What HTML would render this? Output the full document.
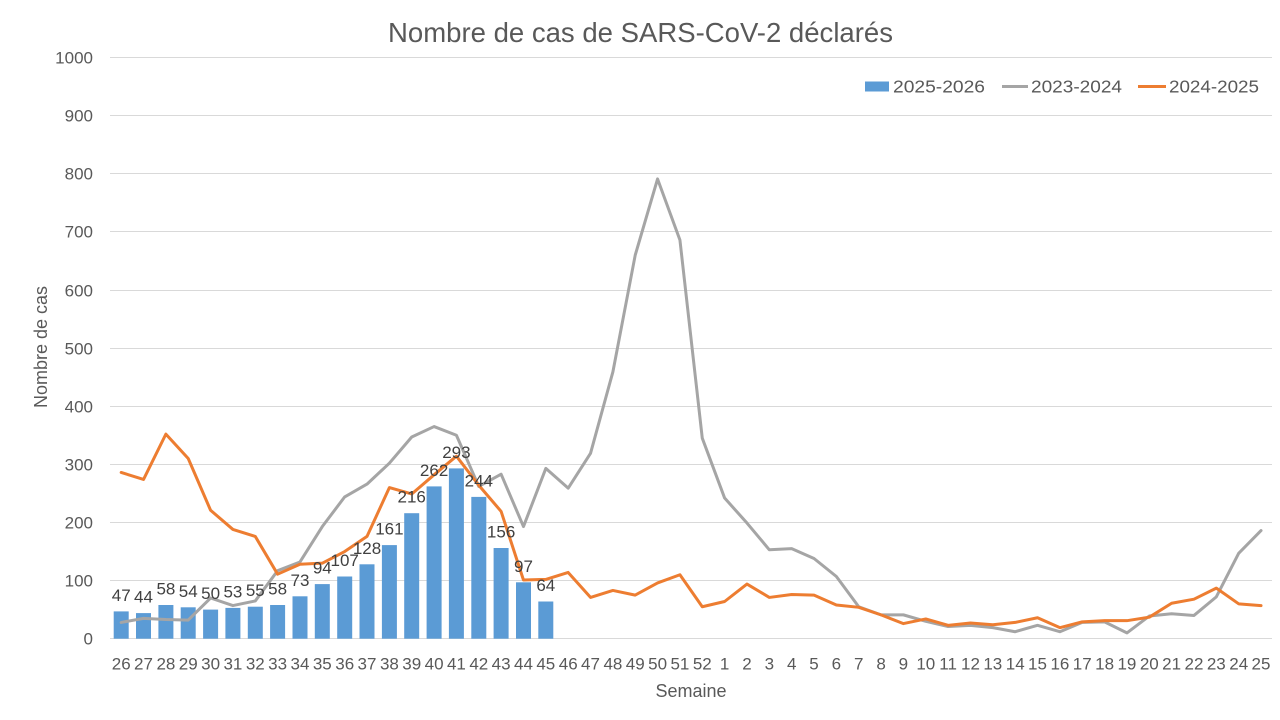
<!DOCTYPE html>
<html>
<head>
<meta charset="utf-8">
<style>
html,body{margin:0;padding:0;background:#fff;}
svg{display:block;}
text{font-family:"Liberation Sans",Arial,sans-serif;}
</style>
</head>
<body>
<svg width="1280" height="720" viewBox="0 0 1280 720" xmlns="http://www.w3.org/2000/svg">
<rect x="0" y="0" width="1280" height="720" fill="#fff"/>
<!-- title -->
<text x="388" y="42" font-size="27.5" fill="#595959" textLength="505" lengthAdjust="spacingAndGlyphs">Nombre de cas de SARS-CoV-2 déclarés</text>

<!-- gridlines -->
<g stroke="#D9D9D9" stroke-width="1">
<line x1="110" x2="1272" y1="57.5" y2="57.5"/>
<line x1="110" x2="1272" y1="115.5" y2="115.5"/>
<line x1="110" x2="1272" y1="173.5" y2="173.5"/>
<line x1="110" x2="1272" y1="231.5" y2="231.5"/>
<line x1="110" x2="1272" y1="290.5" y2="290.5"/>
<line x1="110" x2="1272" y1="348.5" y2="348.5"/>
<line x1="110" x2="1272" y1="406.5" y2="406.5"/>
<line x1="110" x2="1272" y1="464.5" y2="464.5"/>
<line x1="110" x2="1272" y1="522.5" y2="522.5"/>
<line x1="110" x2="1272" y1="580.5" y2="580.5"/>
<line x1="110" x2="1272" y1="638.5" y2="638.5"/>
</g>

<!-- y tick labels -->
<g font-size="17" fill="#595959" text-anchor="end">
<text x="93" y="63.5">1000</text>
<text x="93" y="121.5">900</text>
<text x="93" y="179.5">800</text>
<text x="93" y="237.5">700</text>
<text x="93" y="296.5">600</text>
<text x="93" y="354.5">500</text>
<text x="93" y="412.5">400</text>
<text x="93" y="470.5">300</text>
<text x="93" y="528.5">200</text>
<text x="93" y="586.5">100</text>
<text x="93" y="644.5">0</text>
</g>

<!-- y axis title -->
<text transform="translate(47,347) rotate(-90)" font-size="18" fill="#595959" text-anchor="middle">Nombre de cas</text>

<!-- bars -->
<g fill="#5B9BD5">
<rect x="113.7" y="611.4" width="15" height="27.3"/>
<rect x="136.0" y="613.1" width="15" height="25.6"/>
<rect x="158.4" y="605.0" width="15" height="33.7"/>
<rect x="180.7" y="607.3" width="15" height="31.4"/>
<rect x="203.1" y="609.6" width="15" height="29.1"/>
<rect x="225.4" y="607.9" width="15" height="30.8"/>
<rect x="247.8" y="606.7" width="15" height="32.0"/>
<rect x="270.1" y="605.0" width="15" height="33.7"/>
<rect x="292.5" y="596.3" width="15" height="42.4"/>
<rect x="314.8" y="584.1" width="15" height="54.6"/>
<rect x="337.2" y="576.5" width="15" height="62.2"/>
<rect x="359.5" y="564.3" width="15" height="74.4"/>
<rect x="381.9" y="545.1" width="15" height="93.6"/>
<rect x="404.2" y="513.2" width="15" height="125.5"/>
<rect x="426.6" y="486.4" width="15" height="152.3"/>
<rect x="448.9" y="468.4" width="15" height="170.3"/>
<rect x="471.3" y="496.9" width="15" height="141.8"/>
<rect x="493.6" y="548.0" width="15" height="90.7"/>
<rect x="516.0" y="582.3" width="15" height="56.4"/>
<rect x="538.3" y="601.5" width="15" height="37.2"/>
</g>

<!-- lines in data coords -->
<g transform="translate(121.175,638.7) scale(22.35,-0.5812)" fill="none" stroke-width="3" stroke-linejoin="round" stroke-linecap="round">
<polyline vector-effect="non-scaling-stroke" stroke="#A5A5A5" points="0,28 1,35 2,33 3,32 4,70 5,57 6,65 7,117 8,132 9,193 10,244 11,266 12,302 13,347 14,365 15,350 16,262 17,283 18,193 19,293 20,259 21,319 22,459 23,660 24,791 25,686 26,345 27,242 28,199 29,153 30,155 31,138 32,107 33,55 34,41 35,41 36,30 37,21 38,23 39,19 40,12 41,23 42,12 43,28 44,29 45,10 46,39 47,43 48,40 49,72 50,147 51,186"/>
<polyline vector-effect="non-scaling-stroke" stroke="#ED7D31" points="0,286 1,274 2,352 3,310 4,221 5,188 6,176 7,111 8,128 9,130 10,150 11,176 12,260 13,249 14,282 15,314 16,264 17,219 18,101 19,102 20,114 21,71 22,83 23,75 24,96 25,110 26,55 27,64 28,94 29,71 30,76 31,75 32,58 33,54 34,41 35,26 36,34 37,23 38,27 39,24 40,28 41,36 42,19 43,29 44,31 45,31 46,37 47,61 48,68 49,87 50,60 51,57"/>
</g>

<!-- data labels -->
<g font-size="17" fill="#404040" text-anchor="middle">
<text x="121.2" y="600.9">47</text>
<text x="143.5" y="602.6">44</text>
<text x="165.9" y="594.5">58</text>
<text x="188.2" y="596.8">54</text>
<text x="210.6" y="599.1">50</text>
<text x="232.9" y="597.4">53</text>
<text x="255.3" y="596.2">55</text>
<text x="277.6" y="594.5">58</text>
<text x="300.0" y="585.8">73</text>
<text x="322.3" y="573.6">94</text>
<text x="344.7" y="566.0">107</text>
<text x="367.0" y="553.8">128</text>
<text x="389.4" y="534.6">161</text>
<text x="411.7" y="502.7">216</text>
<text x="434.1" y="475.9">262</text>
<text x="456.4" y="457.9">293</text>
<text x="478.8" y="486.4">244</text>
<text x="501.1" y="537.5">156</text>
<text x="523.5" y="571.8">97</text>
<text x="545.8" y="591.0">64</text>
</g>

<!-- x tick labels -->
<g font-size="17" fill="#595959" text-anchor="middle">
<text x="121.2" y="669.5">26</text>
<text x="143.5" y="669.5">27</text>
<text x="165.9" y="669.5">28</text>
<text x="188.2" y="669.5">29</text>
<text x="210.6" y="669.5">30</text>
<text x="232.9" y="669.5">31</text>
<text x="255.3" y="669.5">32</text>
<text x="277.6" y="669.5">33</text>
<text x="300.0" y="669.5">34</text>
<text x="322.3" y="669.5">35</text>
<text x="344.7" y="669.5">36</text>
<text x="367.0" y="669.5">37</text>
<text x="389.4" y="669.5">38</text>
<text x="411.7" y="669.5">39</text>
<text x="434.1" y="669.5">40</text>
<text x="456.4" y="669.5">41</text>
<text x="478.8" y="669.5">42</text>
<text x="501.1" y="669.5">43</text>
<text x="523.5" y="669.5">44</text>
<text x="545.8" y="669.5">45</text>
<text x="568.2" y="669.5">46</text>
<text x="590.5" y="669.5">47</text>
<text x="612.9" y="669.5">48</text>
<text x="635.2" y="669.5">49</text>
<text x="657.6" y="669.5">50</text>
<text x="679.9" y="669.5">51</text>
<text x="702.3" y="669.5">52</text>
<text x="724.6" y="669.5">1</text>
<text x="747.0" y="669.5">2</text>
<text x="769.3" y="669.5">3</text>
<text x="791.7" y="669.5">4</text>
<text x="814.0" y="669.5">5</text>
<text x="836.4" y="669.5">6</text>
<text x="858.7" y="669.5">7</text>
<text x="881.1" y="669.5">8</text>
<text x="903.4" y="669.5">9</text>
<text x="925.8" y="669.5">10</text>
<text x="948.1" y="669.5">11</text>
<text x="970.5" y="669.5">12</text>
<text x="992.8" y="669.5">13</text>
<text x="1015.2" y="669.5">14</text>
<text x="1037.5" y="669.5">15</text>
<text x="1059.9" y="669.5">16</text>
<text x="1082.2" y="669.5">17</text>
<text x="1104.6" y="669.5">18</text>
<text x="1126.9" y="669.5">19</text>
<text x="1149.3" y="669.5">20</text>
<text x="1171.6" y="669.5">21</text>
<text x="1194.0" y="669.5">22</text>
<text x="1216.3" y="669.5">23</text>
<text x="1238.7" y="669.5">24</text>
<text x="1261.0" y="669.5">25</text>
</g>

<!-- x axis title -->
<text x="691" y="697" font-size="18" fill="#595959" text-anchor="middle">Semaine</text>

<!-- legend -->
<rect x="865" y="81.5" width="24" height="10" fill="#5B9BD5"/>
<text x="893" y="92.5" font-size="17.5" fill="#595959" textLength="92" lengthAdjust="spacingAndGlyphs">2025-2026</text>
<line x1="1002" x2="1028" y1="86.5" y2="86.5" stroke="#A5A5A5" stroke-width="3"/>
<text x="1031" y="92.5" font-size="17.5" fill="#595959" textLength="91" lengthAdjust="spacingAndGlyphs">2023-2024</text>
<line x1="1138" x2="1166" y1="86.5" y2="86.5" stroke="#ED7D31" stroke-width="3"/>
<text x="1169" y="92.5" font-size="17.5" fill="#595959" textLength="90" lengthAdjust="spacingAndGlyphs">2024-2025</text>
</svg>
</body>
</html>
